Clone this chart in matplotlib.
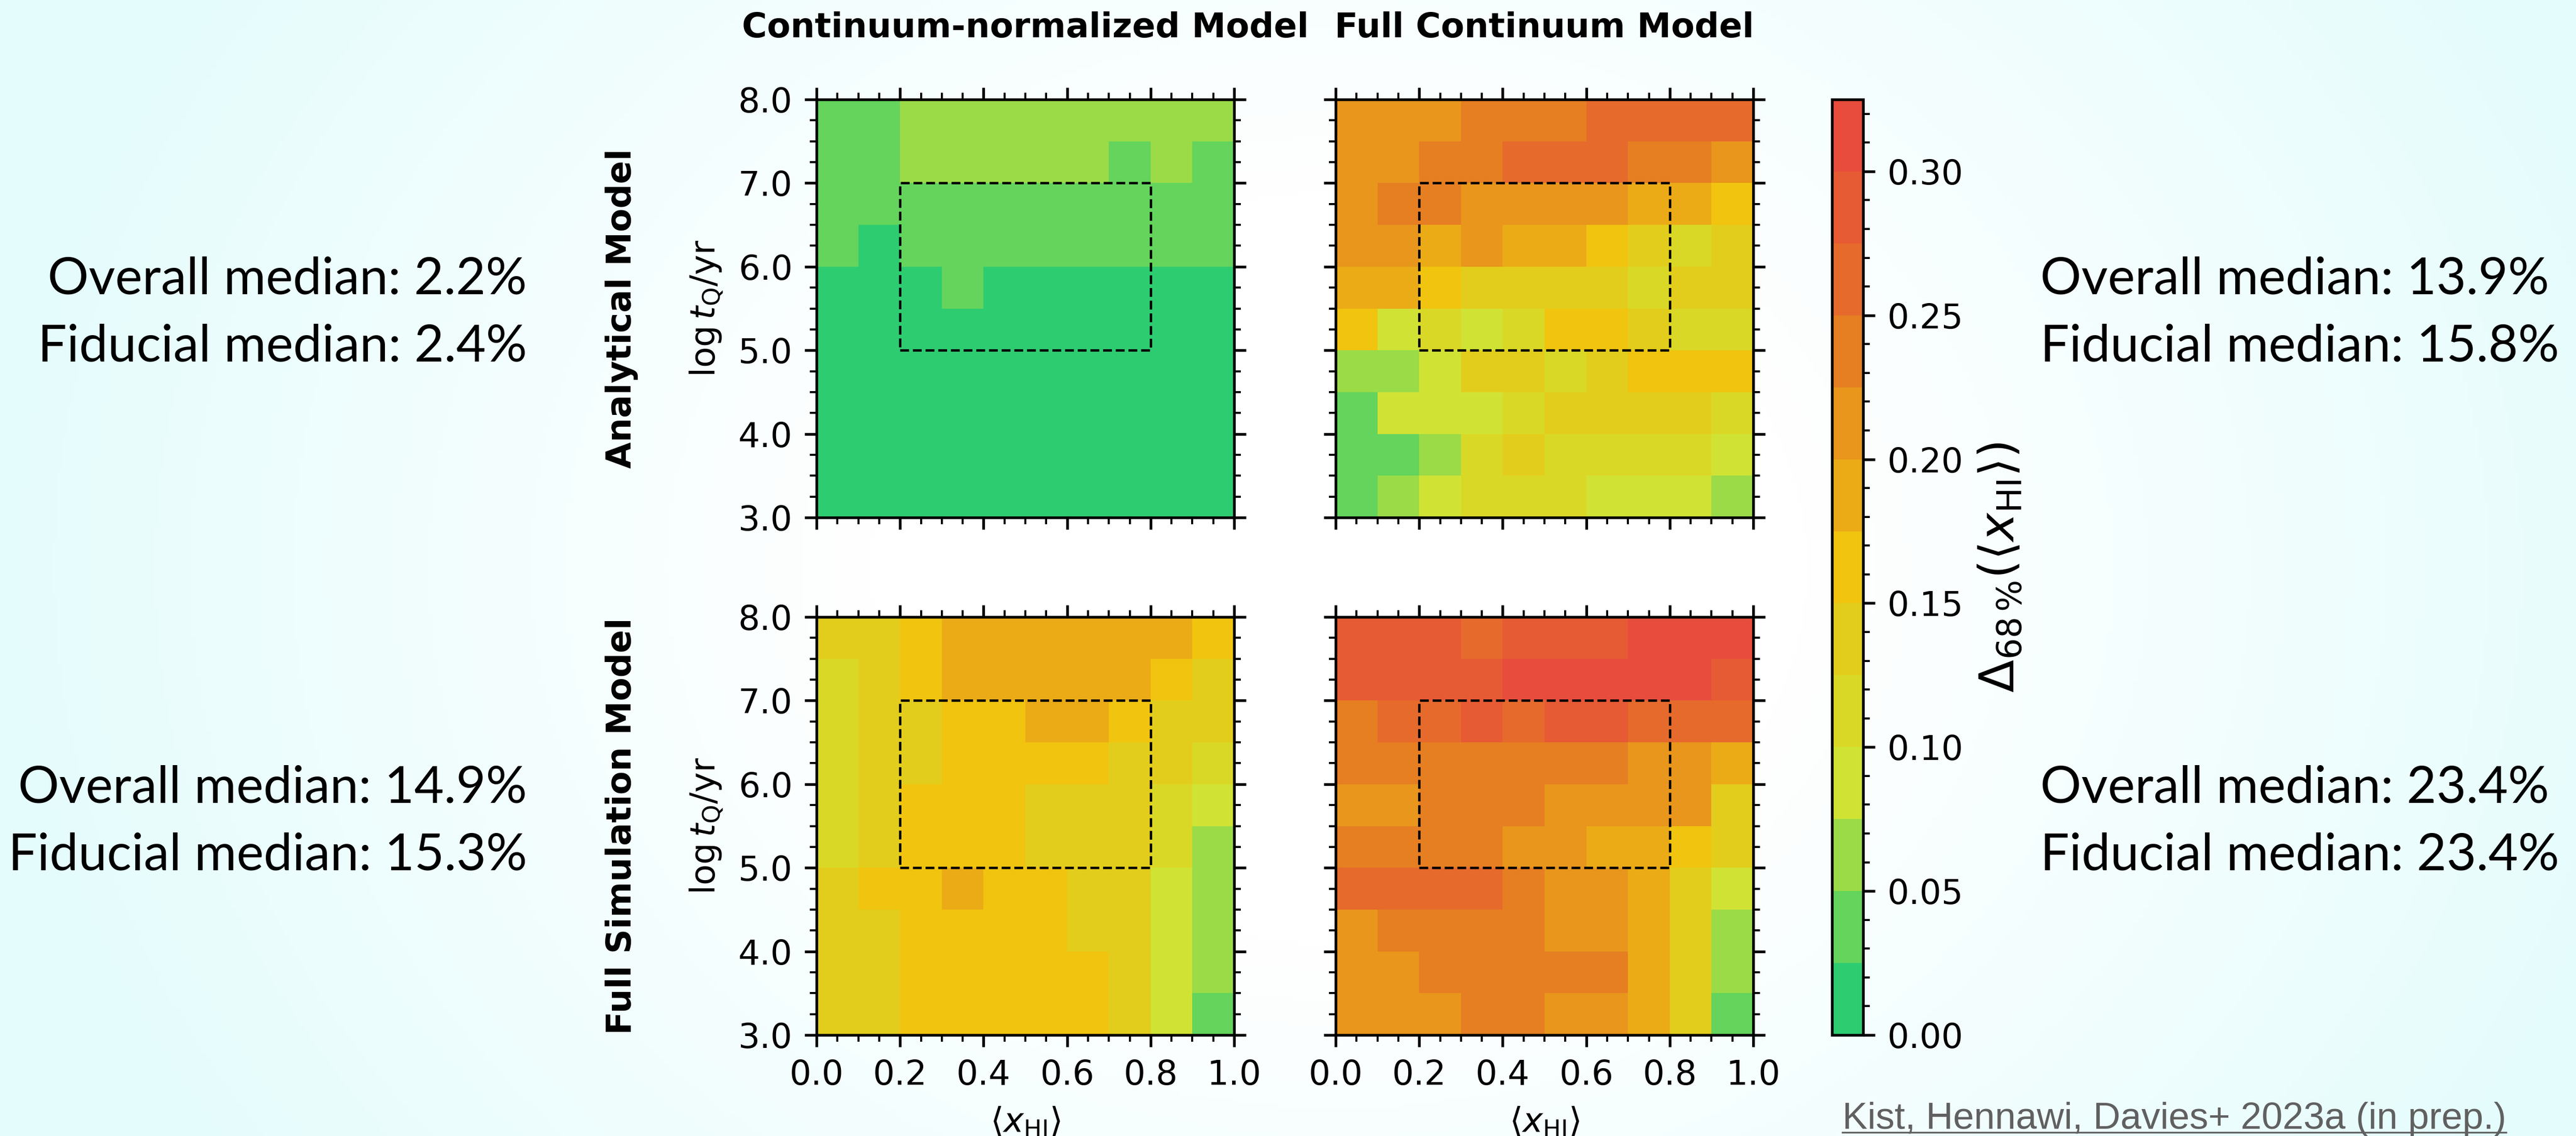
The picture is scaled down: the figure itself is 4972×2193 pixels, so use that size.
import numpy as np
import matplotlib
matplotlib.use('Agg')
import matplotlib.pyplot as plt
from matplotlib.colors import ListedColormap, Normalize
from matplotlib.ticker import MultipleLocator, FormatStrFormatter
from matplotlib.lines import Line2D

# grid of the parameter scan
x_edges = np.linspace(0.0, 1.0, 11)      # <x_HI>
logt_edges = np.linspace(3.0, 8.0, 11)   # log t_Q / yr

# Delta_68% values, rows listed from log t_Q = 8 (top) down to 3 (bottom)
analytic_cont_norm = [
    [.04, .04, .06, .06, .06, .06, .06, .06, .06, .06],
    [.04, .04, .06, .06, .06, .06, .06, .04, .06, .04],
    [.04, .04, .04, .04, .04, .04, .04, .04, .04, .04],
    [.04, .01, .04, .04, .04, .04, .04, .04, .04, .04],
    [.01, .01, .01, .04, .01, .01, .01, .01, .01, .01],
    [.01, .01, .01, .01, .01, .01, .01, .01, .01, .01],
    [.01, .01, .01, .01, .01, .01, .01, .01, .01, .01],
    [.01, .01, .01, .01, .01, .01, .01, .01, .01, .01],
    [.01, .01, .01, .01, .01, .01, .01, .01, .01, .01],
    [.01, .01, .01, .01, .01, .01, .01, .01, .01, .01],
]
analytic_full_cont = [
    [.21, .21, .21, .24, .24, .24, .26, .26, .26, .26],
    [.21, .21, .24, .24, .26, .26, .26, .24, .24, .21],
    [.21, .24, .24, .21, .21, .21, .21, .19, .19, .16],
    [.21, .21, .19, .21, .19, .19, .16, .14, .11, .14],
    [.19, .19, .16, .14, .14, .14, .14, .11, .14, .14],
    [.16, .09, .11, .09, .11, .16, .16, .14, .11, .11],
    [.06, .06, .09, .14, .14, .11, .14, .16, .16, .16],
    [.04, .09, .09, .09, .11, .14, .14, .14, .14, .11],
    [.04, .04, .06, .11, .14, .11, .11, .11, .11, .09],
    [.04, .06, .09, .11, .11, .11, .09, .09, .09, .06],
]
sim_cont_norm = [
    [.14, .14, .16, .19, .19, .19, .19, .19, .19, .16],
    [.11, .14, .16, .19, .19, .19, .19, .19, .16, .14],
    [.11, .14, .14, .16, .16, .19, .19, .16, .14, .14],
    [.11, .14, .14, .16, .16, .16, .16, .14, .14, .11],
    [.11, .14, .16, .16, .16, .14, .14, .14, .11, .09],
    [.11, .14, .16, .16, .16, .14, .14, .14, .11, .06],
    [.14, .16, .16, .19, .16, .16, .14, .14, .09, .06],
    [.14, .14, .16, .16, .16, .16, .14, .14, .09, .06],
    [.14, .14, .16, .16, .16, .16, .16, .14, .09, .06],
    [.14, .14, .16, .16, .16, .16, .16, .14, .09, .04],
]
sim_full_cont = [
    [.29, .29, .29, .26, .29, .29, .29, .31, .31, .31],
    [.29, .29, .29, .29, .31, .31, .31, .31, .31, .29],
    [.24, .26, .26, .29, .26, .29, .29, .26, .26, .26],
    [.24, .24, .24, .24, .24, .24, .24, .21, .21, .19],
    [.21, .21, .24, .24, .24, .21, .21, .21, .21, .14],
    [.24, .24, .24, .24, .21, .21, .19, .19, .16, .14],
    [.26, .26, .26, .26, .24, .21, .21, .19, .14, .09],
    [.21, .24, .24, .24, .24, .21, .21, .19, .14, .06],
    [.21, .21, .24, .24, .24, .24, .24, .19, .14, .06],
    [.21, .21, .21, .24, .24, .21, .21, .19, .14, .04],
]

fiducial_x = (0.2, 0.8)
fiducial_logt = (5.0, 7.0)

col_titles = ['Continuum-normalized Model', 'Full Continuum Model']
row_titles = ['Analytical Model', 'Full Simulation Model']
overall_medians = ['2.2%', '13.9%', '14.9%', '23.4%']
fiducial_medians = ['2.4%', '15.8%', '15.3%', '23.4%']
citation = 'Kist, Hennawi, Davies+ 2023a (in prep.)'

cbar_ticks = [0.00, 0.05, 0.10, 0.15, 0.20, 0.25, 0.30]
vmax = 0.325
level_colors = ['#2ecc71', '#64d45c', '#9bdb48', '#d0e335', '#dad826', '#e3cd1c', '#f1c40f',
                '#ebab17', '#e8961c', '#e67e22', '#e66a2c', '#e65a34', '#e74c3c']

W, H = 4972, 2193
DPI = 475
fig = plt.figure(figsize=(W / DPI, H / DPI), dpi=DPI)
fig.patch.set_facecolor('white')

# soft cyan background like the slide
bg_ax = fig.add_axes([0, 0, 1, 1], zorder=-10)
gx, gy = np.meshgrid(np.linspace(0, 1, 500), np.linspace(0, 1, 250))
r = np.sqrt(((gx - 0.52) / 0.52) ** 2 + ((gy - 0.5) / 0.95) ** 2)
t = np.clip((r - 0.35) / 0.65, 0, 1)
edge = np.array([0.90, 0.99, 0.99])
bg = 1 - t[..., None] * (1 - edge)
bg_ax.imshow(bg, extent=[0, 1, 0, 1], aspect='auto', origin='lower')
bg_ax.axis('off')

cmap = ListedColormap(level_colors)
norm = Normalize(vmin=0.0, vmax=vmax)

lefts = [1576, 2578]
tops = [192, 1191]
pw, ph = 806, 807

panels = [[analytic_cont_norm, analytic_full_cont], [sim_cont_norm, sim_full_cont]]
mesh = None
for i in range(2):
    for j in range(2):
        ax = fig.add_axes([lefts[j] / W, 1 - (tops[i] + ph) / H, pw / W, ph / H])
        vals = np.flipud(np.array(panels[i][j]))
        mesh = ax.pcolormesh(x_edges, logt_edges, vals, cmap=cmap, norm=norm)
        fx, fy = fiducial_x, fiducial_logt
        ax.plot([fx[0], fx[1], fx[1], fx[0], fx[0]], [fy[0], fy[0], fy[1], fy[1], fy[0]],
                color='k', ls='--', lw=0.7, dash_joinstyle='round')
        ax.set_xlim(0, 1)
        ax.set_ylim(3, 8)
        ax.xaxis.set_major_locator(MultipleLocator(0.2))
        ax.xaxis.set_minor_locator(MultipleLocator(0.05))
        ax.yaxis.set_major_locator(MultipleLocator(1.0))
        ax.yaxis.set_minor_locator(MultipleLocator(0.25))
        ax.xaxis.set_major_formatter(FormatStrFormatter('%.1f'))
        ax.yaxis.set_major_formatter(FormatStrFormatter('%.1f'))
        ax.tick_params(which='both', direction='out', top=True, right=True, labelsize=10)
        if i == 1:
            ax.set_xlabel(r'$\langle x_{\rm HI}\rangle$', fontsize=10)
        else:
            ax.tick_params(labelbottom=False)
        if j == 0:
            ax.set_ylabel(r'$\log t_{\rm Q}/{\rm yr}$', fontsize=10)
        else:
            ax.tick_params(labelleft=False)

for j in range(2):
    fig.text((lefts[j] + pw / 2) / W, 1 - 72 / H, col_titles[j], ha='center', va='baseline',
             fontsize=10, fontweight='bold')
for i in range(2):
    fig.text(1200 / W, 1 - (tops[i] + ph / 2) / H, row_titles[i], rotation=90,
             ha='center', va='center', fontsize=10, fontweight='bold')

cax = fig.add_axes([3536 / W, 1 - 1998 / H, 60 / W, (1998 - 192) / H])
cbar = fig.colorbar(mesh, cax=cax, ticks=cbar_ticks)
cbar.ax.yaxis.set_minor_locator(MultipleLocator(0.01))
cbar.ax.yaxis.set_major_formatter(FormatStrFormatter('%.2f'))
cbar.ax.tick_params(which='both', direction='out', labelsize=10)
cbar.set_label(r'$\Delta_{68\,\%}(\langle x_{\rm HI}\rangle)$', fontsize=14)

# median annotations
base_y = [(567, 697), (1550, 1680)]
for i in range(2):
    for j in range(2):
        k = 2 * i + j
        x = 1017 / W if j == 0 else 3938 / W
        ha = 'right' if j == 0 else 'left'
        fig.text(x, 1 - base_y[i][0] / H, 'Overall median: ' + overall_medians[k],
                 ha=ha, va='baseline', fontsize=15, family='Lato')
        fig.text(x, 1 - base_y[i][1] / H, 'Fiducial median: ' + fiducial_medians[k],
                 ha=ha, va='baseline', fontsize=15, family='Lato')

cite = fig.text(4837 / W, 1 - 2179 / H, citation, ha='right', va='baseline',
                fontsize=11, family='Liberation Sans', color='#606060')
fig.canvas.draw()
bb = cite.get_window_extent().transformed(fig.transFigure.inverted())
fig.add_artist(Line2D([bb.x0, bb.x1], [1 - 2186 / H] * 2, color='#606060', lw=0.5,
                      transform=fig.transFigure))

fig.savefig('out.png', dpi=DPI)
